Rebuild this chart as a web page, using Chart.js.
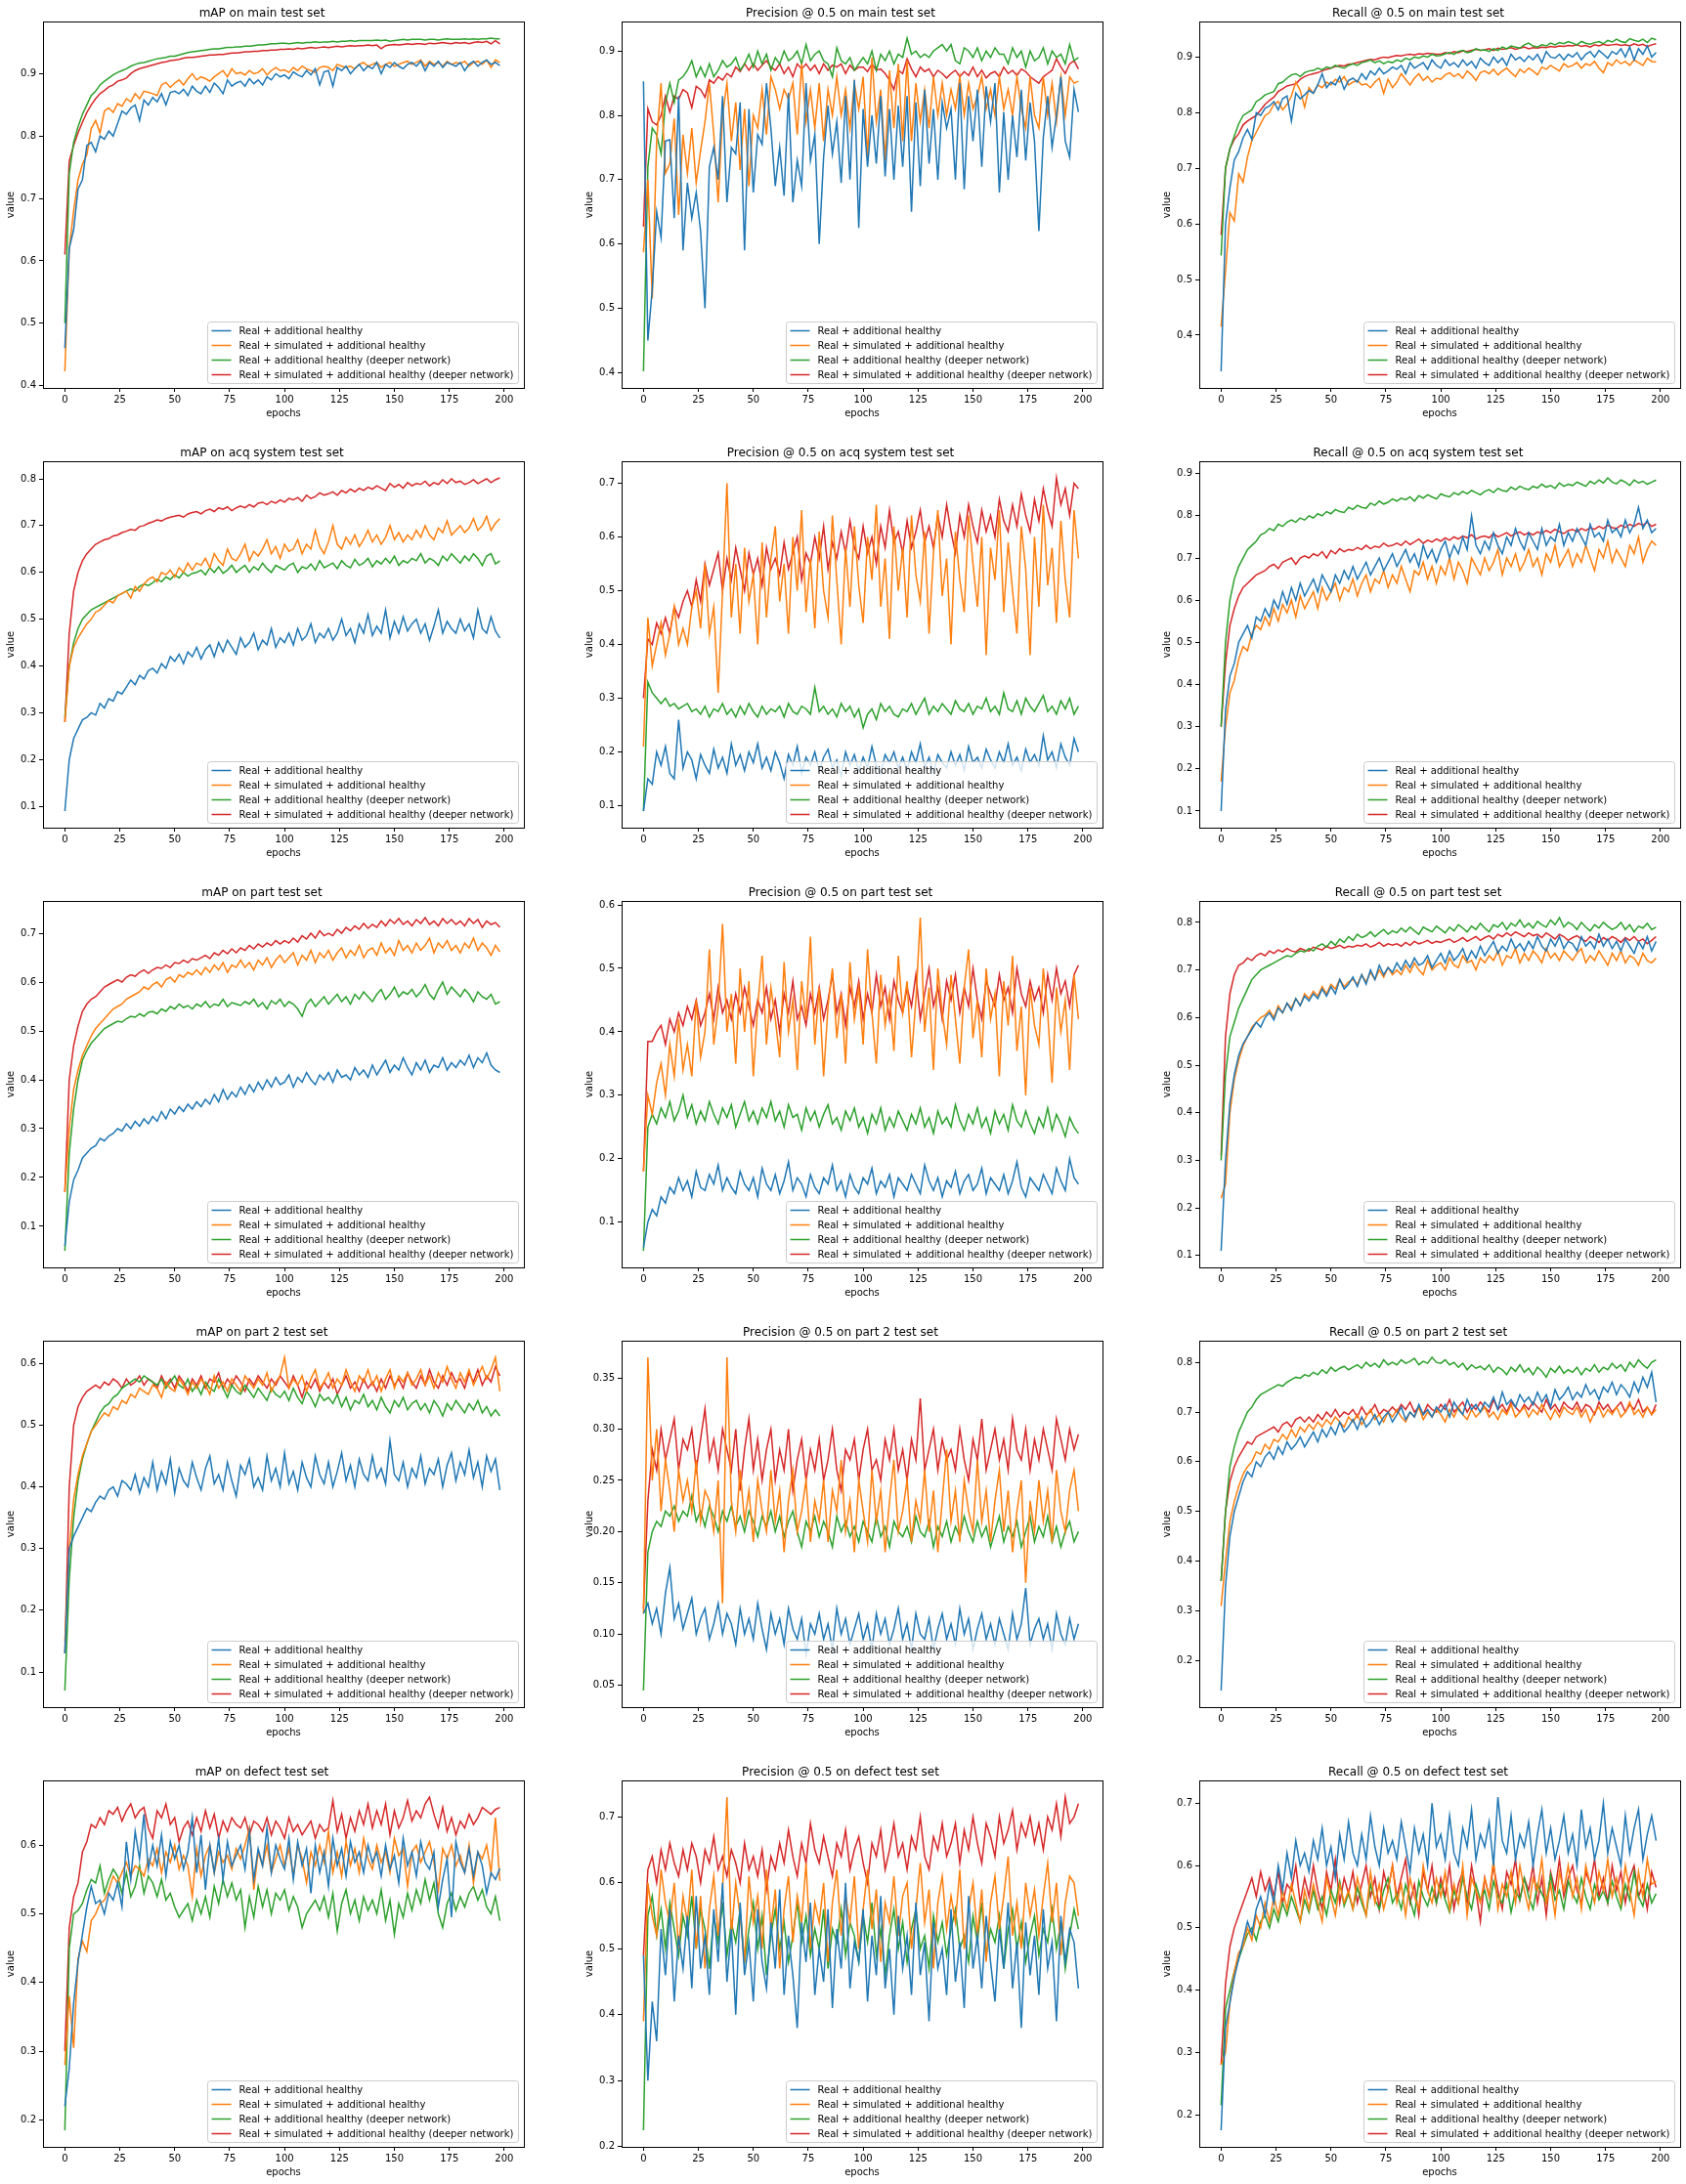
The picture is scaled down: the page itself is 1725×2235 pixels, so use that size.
<!DOCTYPE html>
<html><head><meta charset="utf-8">
<script src="https://cdn.jsdelivr.net/npm/chart.js@4.4.1/dist/chart.umd.min.js"></script>
<style>
body{margin:0;background:#fff;width:1725px;height:2235px;position:relative;overflow:hidden}
.p{position:absolute;width:542px;height:440px}
</style></head><body>
<script>
// ---------- categories / labels ----------
const epochs = [0,2,4,6,8,10,12,14,16,18,20,22,24,26,28,30,32,34,36,38,40,42,44,46,48,50,52,54,56,58,60,62,64,66,68,70,72,74,76,78,80,82,84,86,88,90,92,94,96,98,100,102,104,106,108,110,112,114,116,118,120,122,124,126,128,130,132,134,136,138,140,142,144,146,148,150,152,154,156,158,160,162,164,166,168,170,172,174,176,178,180,182,184,186,188,190,192,194,196,198];
const seriesLabels = ['Real + additional healthy','Real + simulated + additional healthy','Real + additional healthy (deeper network)','Real + simulated + additional healthy (deeper network)'];
const panelTitles = ['mAP on main test set','Precision @ 0.5 on main test set','Recall @ 0.5 on main test set','mAP on acq system test set','Precision @ 0.5 on acq system test set','Recall @ 0.5 on acq system test set','mAP on part test set','Precision @ 0.5 on part test set','Recall @ 0.5 on part test set','mAP on part 2 test set','Precision @ 0.5 on part 2 test set','Recall @ 0.5 on part 2 test set','mAP on defect test set','Precision @ 0.5 on defect test set','Recall @ 0.5 on defect test set'];
const xTickLabels = ['0','25','50','75','100','125','150','175','200'];
const yTicksMain = ['0.4','0.5','0.6','0.7','0.8','0.9'];
const yTicks1to8 = ['0.1','0.2','0.3','0.4','0.5','0.6','0.7','0.8'];
const yTicks1to7 = ['0.1','0.2','0.3','0.4','0.5','0.6','0.7'];
const yTicks1to9 = ['0.1','0.2','0.3','0.4','0.5','0.6','0.7','0.8','0.9'];
const yTicks1to6 = ['0.1','0.2','0.3','0.4','0.5','0.6'];
const yTicksP2Prec = ['0.05','0.10','0.15','0.20','0.25','0.30','0.35'];
const yTicks2to8 = ['0.2','0.3','0.4','0.5','0.6','0.7','0.8'];
const yTicks2to6 = ['0.2','0.3','0.4','0.5','0.6'];
const yTicks2to7 = ['0.2','0.3','0.4','0.5','0.6','0.7'];

// ---------- values (per-mille, epochs 0..198 step 2) ----------
// mAP main
const mapMain_real = [460,620,650,715,730,785,790,775,800,795,808,800,820,840,835,845,850,825,858,850,862,855,868,850,870,872,868,875,865,880,872,868,880,870,885,878,868,890,880,885,888,880,892,884,890,882,895,890,900,895,898,892,903,898,895,905,898,908,882,903,905,880,910,905,912,900,908,915,905,912,908,918,900,915,910,918,912,908,915,918,912,920,905,918,912,920,910,918,915,912,918,905,915,920,912,918,922,915,918,913];
const mapMain_sim = [423,620,680,730,755,770,812,825,805,840,845,838,852,848,860,855,868,860,872,870,868,865,882,886,878,885,890,882,892,900,890,895,892,888,895,900,905,895,908,900,902,898,905,900,902,908,898,905,910,905,906,902,910,905,912,908,905,902,910,912,910,905,915,912,910,912,908,915,918,912,915,918,910,915,918,912,915,918,920,915,918,922,912,920,915,918,912,920,915,918,916,920,912,918,920,915,922,910,922,918];
const mapMain_deep = [500,740,790,815,835,850,865,872,882,888,893,898,902,905,908,912,915,917,918,920,922,924,925,926,928,928,930,932,934,935,936,937,938,939,940,940,941,942,942,943,943,944,944,945,946,946,947,948,948,949,949,948,949,950,949,950,950,951,950,951,951,952,951,952,952,953,952,953,953,953,953,954,953,954,952,953,954,955,954,955,955,955,954,955,955,954,955,956,955,955,955,956,955,956,955,956,956,957,956,956];
const mapMain_simDeep = [610,760,785,805,822,838,850,860,868,873,879,882,888,890,893,900,905,908,910,912,914,916,918,919,921,922,923,925,926,926,927,928,929,930,930,931,931,932,933,933,934,935,935,936,936,937,937,938,938,939,939,940,939,941,940,941,942,941,942,943,942,943,944,943,944,945,944,945,945,946,945,946,940,945,946,947,946,947,948,947,948,948,947,949,948,949,950,949,948,950,949,950,948,950,951,950,952,948,953,948];
// Precision main
const precMain_real = [853,450,530,650,610,760,762,640,830,590,695,640,680,620,500,720,750,700,830,665,750,740,820,590,810,680,770,755,850,780,690,750,675,835,665,730,690,850,730,770,600,735,815,740,790,695,830,700,855,625,810,720,800,725,830,705,810,700,815,720,830,650,820,690,840,725,810,700,820,780,810,700,850,685,830,760,840,720,845,790,850,680,805,700,800,735,840,730,820,760,620,765,830,750,800,860,760,735,840,805];
const precMain_sim = [587,700,515,760,850,710,725,795,645,770,710,780,695,745,790,850,770,665,800,850,760,820,715,810,690,800,780,840,770,860,840,810,840,825,850,770,880,790,840,780,850,760,840,800,860,800,840,780,850,810,860,735,890,790,840,730,870,780,880,760,885,760,850,790,840,780,860,800,850,800,840,810,860,800,850,810,830,860,810,840,800,860,810,840,800,860,810,780,860,800,780,860,800,850,790,860,800,860,850,853];
const precMain_deep = [402,720,780,770,740,820,850,820,855,860,870,885,860,875,860,880,860,870,885,875,880,890,870,880,895,875,900,880,895,870,890,880,900,885,890,900,880,910,885,895,900,885,880,860,905,885,880,890,870,880,890,880,900,870,895,885,900,880,895,890,920,895,900,890,895,890,900,905,910,900,910,885,880,905,900,890,905,885,900,890,905,895,895,880,905,890,900,875,900,885,890,905,880,900,890,895,880,910,885,890];
const precMain_simDeep = [627,810,790,785,800,830,805,830,825,840,835,812,845,840,828,855,850,860,855,865,860,875,868,880,870,880,870,878,885,875,870,880,865,875,860,880,872,880,870,878,865,880,870,878,875,880,865,878,870,875,875,868,880,870,872,865,855,840,870,865,888,872,860,875,868,872,860,870,865,858,865,870,860,868,862,875,860,870,858,865,868,860,875,865,870,862,872,868,860,855,850,860,865,870,888,875,865,880,885,872];
// Recall main
const recMain_real = [335,600,665,715,730,755,770,752,800,795,808,812,820,805,825,830,785,835,825,832,840,835,850,870,845,855,850,865,842,858,862,855,870,860,875,868,880,870,875,882,878,885,870,890,880,885,890,878,895,885,880,895,885,890,882,895,885,892,880,898,890,885,900,890,898,885,905,895,900,892,902,895,905,890,910,900,898,905,895,905,900,908,895,905,910,900,912,905,898,910,905,915,900,918,895,915,905,920,900,908];
const recMain_sim = [415,515,620,605,690,675,720,750,765,780,795,800,815,820,805,815,830,855,840,810,845,835,850,845,855,850,860,855,865,850,855,858,850,852,845,855,862,835,860,845,855,870,860,850,862,870,858,865,855,862,860,868,872,865,870,862,875,868,858,872,875,870,878,868,875,880,872,865,878,872,880,875,868,882,878,885,880,875,888,882,885,890,880,888,885,892,880,872,890,885,895,888,892,885,895,890,885,898,892,891];
const recMain_deep = [543,700,735,758,780,795,800,805,820,825,832,835,838,852,855,862,868,870,865,872,875,876,880,877,882,880,885,882,880,885,888,885,890,892,895,890,893,888,892,890,895,892,898,895,900,898,902,900,905,902,903,906,908,905,910,912,908,910,915,912,913,910,915,912,918,915,920,918,916,922,925,920,918,922,920,925,922,926,924,928,925,922,928,925,923,926,928,924,930,927,932,928,926,933,930,928,932,926,934,931];
const recMain_simDeep = [580,700,735,752,762,778,785,790,795,805,815,822,828,838,843,848,850,852,860,865,868,870,872,875,878,880,883,885,884,887,888,890,892,894,896,895,898,900,899,901,903,902,904,905,904,906,905,907,906,905,905,908,906,910,908,911,910,912,914,912,913,915,912,916,914,915,917,914,916,918,915,917,916,918,917,919,918,920,919,921,920,922,919,921,918,922,920,923,921,922,923,921,922,920,924,921,923,919,922,924];
// mAP acq
const mapAcq_real = [90,200,245,265,285,290,300,295,320,310,330,325,345,340,355,370,360,380,372,390,395,385,405,395,420,410,425,405,430,420,440,415,435,445,420,450,430,455,440,425,460,440,450,470,435,455,445,480,440,460,450,470,445,480,455,465,490,450,470,460,480,455,470,500,465,480,450,490,470,510,465,485,470,520,460,495,470,505,475,490,500,470,490,455,485,520,470,495,480,470,500,475,490,460,520,480,470,505,475,460];
const mapAcq_sim = [280,400,440,460,475,490,500,515,520,530,540,535,550,555,560,545,570,560,575,585,590,580,600,595,605,590,610,600,620,605,620,615,630,610,640,625,615,650,630,625,640,660,625,645,635,650,670,640,655,630,660,645,650,670,640,660,650,690,655,640,665,700,660,650,675,660,680,655,670,690,665,680,660,675,700,670,685,665,680,670,690,675,700,680,670,695,685,710,680,690,700,685,695,715,690,700,720,690,705,715];
const mapAcq_deep = [290,400,450,480,500,510,520,525,530,535,540,545,550,555,560,565,560,570,575,572,578,585,580,590,585,595,588,600,592,598,600,605,595,610,600,612,598,605,615,600,608,615,600,612,605,620,608,600,615,610,605,615,620,600,612,608,618,605,625,610,615,620,608,625,615,610,628,615,620,630,612,625,618,630,620,635,615,625,620,630,625,640,620,630,625,615,635,625,640,630,620,635,625,640,630,615,635,640,618,625];
const mapAcq_simDeep = [280,470,560,600,625,640,650,660,665,670,672,678,680,685,688,692,690,698,700,705,708,712,710,715,718,720,722,718,725,728,730,725,732,735,730,738,735,740,732,738,742,738,745,740,748,750,745,752,748,755,750,758,755,760,752,765,758,762,770,765,768,772,765,775,770,778,772,780,775,782,778,785,780,775,790,782,788,780,792,785,790,788,795,785,792,788,798,790,800,792,795,788,792,798,790,795,800,792,798,802];
// Precision acq
const precAcq_real = [90,150,140,200,175,210,160,150,260,170,200,185,150,195,175,160,205,170,190,160,215,175,195,165,200,180,215,170,190,165,200,180,150,195,175,210,160,190,175,200,165,190,205,170,185,155,200,175,195,165,190,170,210,175,160,195,180,200,170,190,165,200,180,215,170,190,160,195,180,170,200,175,195,165,210,180,190,170,205,185,170,200,180,215,175,190,165,205,180,195,175,230,185,200,170,215,190,175,225,200];
const precAcq_sim = [210,450,360,400,440,380,420,470,400,430,400,470,500,430,550,420,470,310,500,700,450,550,420,580,480,530,400,590,450,560,620,480,550,420,600,500,650,460,560,430,610,500,450,640,520,400,580,470,620,510,440,600,520,660,470,560,410,620,500,580,450,640,530,480,610,420,570,650,490,560,400,610,520,460,640,550,470,600,380,580,520,650,460,590,500,420,620,540,380,600,470,660,510,580,440,630,520,450,650,560];
const precAcq_deep = [90,330,310,300,290,300,285,290,280,285,290,275,280,270,285,265,280,275,290,270,280,265,285,270,290,275,265,285,270,280,275,285,265,290,275,270,285,280,270,320,275,285,270,280,265,290,275,285,265,280,245,270,280,260,290,275,285,270,265,280,275,290,270,285,300,270,285,275,290,280,270,295,280,275,290,270,285,280,300,275,285,270,310,280,275,295,270,300,285,275,290,305,275,285,270,295,280,300,270,285];
const precAcq_simDeep = [300,410,400,440,420,450,420,470,450,480,500,470,520,480,550,510,540,570,500,560,520,580,540,500,570,530,560,510,580,540,560,530,590,540,570,600,520,570,550,600,560,620,540,590,560,610,570,630,580,560,620,570,600,550,620,580,650,590,610,570,630,580,610,650,590,620,580,640,600,660,610,570,640,600,660,620,590,650,610,640,600,670,630,610,660,620,680,640,610,670,630,690,650,620,710,660,690,640,700,690];
// Recall acq
const recAcq_real = [100,340,420,450,500,520,540,510,560,550,580,560,600,580,620,590,630,600,640,610,630,650,620,660,640,620,660,640,670,650,680,650,670,690,660,680,700,670,690,710,680,700,720,690,710,680,730,700,720,690,720,740,700,730,710,750,720,800,730,710,740,720,760,730,710,750,730,770,740,720,760,740,720,770,730,750,740,780,730,760,740,770,750,730,780,750,760,740,790,760,770,750,790,760,780,820,770,790,760,770];
const recAcq_sim = [170,300,380,410,460,490,480,520,540,530,560,540,580,550,590,570,600,560,610,580,600,620,580,630,600,620,640,600,630,620,650,610,640,660,620,650,640,670,630,660,640,680,650,620,670,660,690,650,680,640,680,660,700,650,690,670,640,700,680,660,700,670,690,720,660,700,680,710,670,690,720,680,700,660,710,690,730,680,700,720,680,710,690,730,700,670,720,700,740,690,720,700,680,730,710,750,690,720,740,730];
const recAcq_deep = [300,500,600,650,680,700,720,730,740,755,760,770,765,780,775,785,790,785,795,790,800,795,805,800,810,805,815,810,808,820,815,825,820,818,830,825,835,828,832,840,835,842,838,845,835,848,842,850,845,840,852,848,845,855,850,858,852,860,855,850,858,862,855,865,860,858,868,862,870,865,862,870,866,875,868,872,865,878,870,875,872,880,875,870,882,876,885,878,890,880,876,885,880,872,885,878,882,875,880,885];
const recAcq_simDeep = [300,450,540,580,610,630,640,650,660,665,670,680,685,675,690,695,700,685,700,705,700,710,705,715,700,718,710,722,715,720,718,725,720,730,722,728,725,735,728,730,735,730,740,732,738,745,735,742,738,745,740,748,742,750,745,752,748,755,745,750,752,748,758,750,755,760,752,758,762,755,760,755,762,758,765,760,768,762,758,765,768,762,770,765,772,768,775,770,778,772,770,778,772,780,775,782,778,785,775,780];
// mAP part
const mapPart_real = [60,150,195,215,240,250,260,265,280,275,285,290,300,295,310,300,315,305,320,310,325,315,335,320,340,330,345,335,350,340,355,345,360,350,370,355,380,360,375,365,385,370,390,375,395,380,400,385,405,390,395,410,385,405,395,415,400,390,410,400,415,395,420,405,410,400,425,410,420,405,430,410,425,440,415,430,420,445,425,410,435,420,440,415,430,425,445,420,435,425,440,430,450,425,445,435,455,430,420,415];
const mapPart_sim = [170,300,380,420,450,470,490,505,515,525,535,545,550,555,565,570,575,580,590,585,595,600,590,605,610,600,615,610,620,615,625,615,630,620,635,625,640,620,635,630,645,630,640,625,645,635,650,630,645,655,640,650,660,635,655,645,665,640,660,650,665,645,660,670,650,665,655,675,650,665,670,655,680,660,670,655,685,665,675,660,680,665,675,690,660,680,670,685,665,675,660,680,670,690,665,680,670,655,675,662];
const mapPart_deep = [50,250,340,400,440,460,475,485,495,505,510,515,520,518,525,530,528,535,530,538,540,535,545,540,550,545,555,548,552,545,555,550,560,548,555,552,565,550,558,555,552,560,555,565,550,558,545,562,555,565,550,560,555,545,530,555,565,550,560,570,555,565,575,560,570,555,575,565,580,570,560,575,585,565,575,590,570,580,575,585,570,580,595,575,565,585,600,575,590,580,570,585,575,560,580,570,565,575,555,560];
const mapPart_simDeep = [170,400,470,510,540,555,565,570,580,590,595,600,605,600,610,615,612,620,625,618,625,630,628,635,630,640,638,645,640,648,645,650,655,648,660,655,665,658,668,660,670,665,675,668,678,672,680,675,685,678,685,680,690,682,695,688,700,690,705,695,700,695,708,700,712,705,715,708,720,710,718,712,725,715,728,720,730,718,725,715,728,720,732,718,725,715,730,720,728,718,725,715,730,720,728,712,725,718,722,712];
// Precision part
const precPart_real = [60,100,120,110,140,130,155,145,170,150,165,140,180,155,150,175,160,190,150,170,155,145,180,160,150,170,140,185,160,150,175,145,165,195,150,170,160,140,175,155,145,170,160,190,150,165,140,175,155,145,170,160,185,145,165,155,175,140,170,160,150,175,160,145,190,165,150,170,140,165,155,180,145,165,175,150,160,185,145,170,160,150,175,145,165,195,155,140,170,160,150,175,160,145,185,165,150,200,170,160];
const precPart_sim = [180,300,270,320,350,300,380,330,420,340,380,330,450,360,400,530,380,440,570,400,460,350,500,400,480,330,440,520,380,470,420,360,510,400,450,340,480,420,550,380,470,330,440,500,390,460,350,510,420,470,380,530,430,350,490,410,460,370,520,430,480,360,450,580,400,470,340,500,430,380,490,420,350,470,530,390,450,360,500,420,460,330,480,410,520,370,440,300,470,410,380,500,430,320,470,400,450,340,490,420];
const precPart_deep = [55,250,270,255,280,265,290,260,275,300,265,285,255,275,260,290,270,255,280,265,285,250,270,290,260,275,255,280,265,290,260,275,250,285,265,270,245,280,260,275,250,270,285,255,265,245,275,260,280,250,265,240,270,255,280,245,265,250,275,260,245,270,255,280,250,265,240,275,255,265,250,285,260,245,270,255,280,250,265,240,275,255,270,245,285,260,250,275,255,240,265,250,280,245,270,255,235,265,250,240];
const precPart_simDeep = [180,385,385,400,410,380,420,400,430,410,440,420,450,410,430,460,420,470,430,450,420,460,430,470,440,410,450,430,470,420,450,400,460,430,480,420,440,410,460,430,470,420,450,490,430,460,410,470,440,480,420,460,430,490,440,470,420,480,450,430,470,440,490,420,460,500,440,470,420,480,450,490,430,470,440,500,450,420,480,460,440,490,450,470,430,500,460,440,480,450,470,430,490,450,500,460,480,440,490,505];
// Recall part
const recPart_real = [110,300,420,480,520,545,560,575,590,580,600,610,595,620,610,630,615,640,625,645,635,650,640,660,645,665,650,680,660,670,685,665,690,670,700,680,710,690,705,695,715,700,720,705,725,710,715,730,705,720,735,715,740,720,730,745,720,740,725,750,730,745,760,735,750,740,765,745,755,740,760,745,770,750,740,765,750,770,745,760,755,740,770,750,760,745,775,750,765,745,760,740,765,750,735,760,745,770,740,760];
const recPart_sim = [220,250,400,470,510,540,560,580,590,600,605,615,600,625,610,630,620,640,625,650,640,655,645,665,650,670,660,680,665,675,680,670,690,675,695,680,700,685,705,690,700,690,710,695,715,700,690,720,700,710,715,700,725,710,705,730,715,720,700,725,715,730,720,740,710,730,725,745,715,735,720,740,730,715,745,725,735,720,740,730,720,735,745,715,730,720,740,725,710,735,720,740,715,730,725,710,735,720,715,725];
const recPart_deep = [300,480,560,590,620,640,660,680,690,700,705,710,715,720,725,730,728,735,740,738,745,740,750,755,748,760,752,765,758,770,762,775,768,772,780,770,778,785,775,782,778,788,780,790,782,775,790,785,780,792,785,778,790,782,795,788,780,792,785,798,788,780,795,790,800,785,798,792,805,790,798,788,802,795,790,805,795,810,790,800,795,785,800,790,782,795,788,800,792,785,790,800,785,795,780,792,788,798,785,790];
const recPart_simDeep = [310,560,650,690,710,715,725,720,730,735,730,740,735,742,738,745,740,738,745,742,740,748,745,742,750,745,748,752,746,750,748,752,750,755,748,752,758,750,755,752,755,750,758,752,760,755,758,762,756,760,758,762,765,758,762,768,760,765,770,762,768,772,765,775,770,778,772,780,775,770,778,772,775,768,778,772,765,775,770,762,768,772,765,760,770,765,758,768,762,770,765,758,768,762,770,760,765,755,762,770];
// mAP part 2
const mapPart2_real = [130,300,320,335,350,365,360,375,385,380,395,400,385,410,405,395,420,390,415,400,440,395,425,405,445,390,430,410,400,440,415,395,430,450,405,420,395,440,410,385,435,420,445,400,415,395,450,410,430,400,455,405,425,395,440,415,400,450,420,405,440,400,425,455,410,435,400,445,420,410,450,415,430,405,475,420,410,440,400,430,415,450,405,430,420,445,400,435,455,410,440,420,460,415,440,400,450,425,445,395];
const mapPart2_sim = [150,300,380,420,450,470,490,500,510,520,515,530,525,540,535,550,545,560,555,550,565,560,545,570,560,555,575,565,550,570,560,575,565,550,580,560,570,555,575,565,555,580,570,560,575,565,585,555,570,580,610,560,575,565,580,555,575,590,560,570,585,560,575,565,590,570,555,580,570,590,565,580,555,575,590,560,580,570,585,565,575,590,565,580,560,585,570,595,575,560,585,570,590,565,580,595,575,590,610,555];
const mapPart2_deep = [70,250,350,410,445,470,490,505,520,530,535,545,550,560,565,570,575,570,580,575,570,565,575,560,570,580,565,560,575,555,565,550,570,560,555,575,560,545,565,555,550,565,555,545,560,550,540,560,550,545,555,540,560,545,535,555,545,530,550,540,545,535,550,530,545,525,540,535,550,530,540,525,545,530,520,540,530,545,525,535,540,525,535,520,540,530,515,535,525,540,530,520,535,525,540,520,530,515,525,515];
const mapPart2_simDeep = [130,400,500,530,545,555,560,565,560,570,565,575,570,560,575,565,570,580,565,575,570,560,580,565,575,560,580,570,555,575,565,580,560,575,570,585,560,575,565,580,570,555,575,565,580,570,560,575,565,580,570,560,580,565,545,570,560,575,555,570,560,575,550,565,580,560,570,555,575,560,570,555,575,560,580,565,575,560,585,570,560,580,565,590,570,560,580,565,585,570,575,560,585,570,590,565,580,570,595,580];
// Precision part 2
const precPart2_real = [120,130,110,125,100,140,165,115,130,105,120,135,100,115,125,95,110,130,100,120,110,90,125,100,115,95,130,105,85,120,100,115,90,125,105,95,115,80,110,100,120,95,110,85,125,100,115,90,105,120,95,110,85,120,100,115,90,105,125,95,110,85,120,100,95,115,85,105,120,95,110,90,125,100,115,85,105,120,95,110,90,115,100,85,120,95,110,145,90,105,115,95,110,85,120,100,90,115,95,110];
const precPart2_sim = [120,370,250,300,220,270,240,200,260,230,250,220,270,210,240,230,200,250,130,370,230,200,260,210,240,190,250,220,200,260,210,240,180,230,260,200,220,250,190,230,210,250,190,240,220,270,200,230,180,250,220,190,260,210,240,180,230,270,200,220,250,190,230,210,260,200,240,180,230,280,210,240,190,250,220,200,270,210,240,190,230,260,200,240,180,220,250,150,230,200,250,210,240,190,260,220,200,240,260,220];
const precPart2_deep = [45,180,200,210,205,220,215,225,210,220,215,235,210,220,205,225,215,200,220,210,225,205,215,200,220,210,195,215,205,220,200,215,195,210,220,200,185,210,200,215,195,210,200,185,215,200,210,195,205,190,210,200,190,215,195,205,185,210,200,195,205,190,215,200,195,210,185,205,195,210,190,205,195,215,200,190,210,195,205,185,200,215,190,205,195,210,185,200,215,190,205,195,215,190,205,185,200,210,190,200];
const precPart2_simDeep = [125,230,280,260,300,270,290,310,260,290,280,300,260,290,320,270,290,260,300,280,260,300,240,280,310,260,290,250,280,300,250,280,260,300,240,270,290,250,280,260,290,250,270,300,260,240,280,270,290,250,280,300,260,270,250,290,270,300,260,280,250,290,270,330,260,280,300,260,290,270,280,260,300,270,250,290,270,310,260,280,300,270,290,260,310,280,270,300,260,290,270,300,280,260,310,290,270,300,280,295];
// Recall part 2
const recPart2_real = [140,350,450,500,530,560,580,570,600,590,610,620,605,630,615,640,625,635,650,630,645,660,640,665,650,670,655,680,660,670,685,665,690,670,680,695,675,690,700,680,695,710,685,700,690,715,695,705,690,710,700,715,690,720,705,695,725,705,715,700,720,710,730,705,740,715,725,710,735,720,730,715,740,720,735,710,745,725,735,750,725,740,730,755,735,745,725,750,740,760,735,755,745,730,760,740,770,750,780,720];
const recPart2_sim = [310,400,480,520,550,575,590,600,620,615,635,625,645,640,655,645,665,650,670,660,675,665,680,670,685,675,690,680,670,690,680,695,675,690,705,685,695,680,700,690,705,690,680,700,690,710,685,700,690,705,695,680,705,690,710,695,685,705,690,700,710,690,700,685,705,695,715,690,700,710,690,705,695,715,700,685,705,690,710,700,695,710,690,705,680,700,710,690,705,695,710,690,700,720,695,705,690,710,695,705];
const recPart2_deep = [360,500,590,630,660,680,700,710,725,735,740,745,750,755,752,760,765,770,768,775,772,780,775,785,778,790,782,788,792,785,790,795,788,800,792,798,790,805,795,800,795,805,798,802,808,795,802,798,810,800,798,805,795,800,790,798,785,795,788,792,785,795,780,790,785,775,790,782,795,780,788,775,790,782,770,788,780,792,778,785,780,790,775,788,782,795,780,790,785,798,788,795,782,800,790,805,795,788,800,805];
const recPart2_simDeep = [360,500,560,590,610,625,640,635,650,655,660,665,670,660,675,680,670,685,690,680,690,680,695,685,700,690,705,690,700,695,705,690,710,695,700,715,695,705,700,710,700,715,705,720,700,710,695,715,705,700,715,705,725,700,710,720,700,715,705,720,710,700,725,705,715,700,720,710,700,715,705,720,710,700,725,705,715,700,720,710,705,720,700,715,710,695,720,705,715,700,710,720,700,715,705,725,700,710,695,715];
// mAP defect
const mapDef_real = [220,275,370,430,470,510,540,515,520,500,530,520,545,510,605,550,620,580,645,565,600,570,615,555,605,580,600,565,590,640,560,615,535,600,560,610,550,605,570,585,600,565,620,550,595,570,625,560,600,580,565,610,550,605,570,595,530,600,560,590,540,610,570,595,555,605,575,590,560,600,575,590,555,600,565,585,545,610,570,590,555,605,575,565,590,510,550,580,495,605,575,560,595,555,590,570,530,560,550,566];
const mapDef_sim = [280,380,305,435,460,445,490,500,515,520,535,555,545,560,575,555,570,565,555,580,570,595,560,590,575,600,565,585,570,525,595,555,585,600,560,590,575,585,565,595,580,600,625,535,590,570,600,560,580,600,570,595,555,600,580,545,590,570,600,575,620,560,590,555,605,570,595,560,610,580,565,600,575,590,560,610,585,595,540,590,600,575,590,605,575,535,595,580,600,570,585,560,600,545,590,580,600,560,640,548];
const mapDef_deep = [185,450,500,505,515,535,550,545,570,530,550,565,555,530,560,525,540,570,530,555,545,525,550,520,530,510,495,505,515,490,520,500,525,495,540,515,550,525,545,520,535,480,525,495,540,510,535,500,530,520,535,505,525,510,480,500,510,520,505,525,495,530,475,515,535,500,520,490,525,505,520,500,535,490,520,470,515,495,530,505,535,515,550,520,545,500,480,515,530,505,525,510,530,540,520,535,510,500,525,490];
const mapDef_simDeep = [300,480,525,545,590,605,630,625,640,630,650,645,655,635,650,660,640,650,655,625,610,650,640,660,630,640,605,625,635,615,640,620,650,625,645,610,635,620,640,630,625,640,615,635,630,620,640,615,635,625,610,640,620,630,615,625,635,610,630,620,625,665,620,645,610,640,620,650,630,660,625,650,630,660,615,650,625,640,665,635,650,640,660,670,645,625,655,620,640,615,635,625,645,630,640,655,650,645,652,655];
// Precision defect
const precDef_real = [490,300,420,360,530,460,560,420,520,470,550,440,580,470,520,430,560,480,600,450,530,400,570,460,510,420,560,480,440,540,470,590,430,520,460,380,540,480,570,430,500,450,560,410,530,470,600,440,510,480,560,420,520,460,580,440,500,400,550,470,520,430,570,460,510,390,540,470,500,430,560,450,510,410,580,470,520,440,550,480,420,530,470,570,440,510,380,540,460,520,430,560,470,510,390,550,480,530,510,440];
const precDef_sim = [390,600,550,520,620,570,540,600,500,580,540,620,500,580,470,560,610,520,590,730,520,600,550,480,610,540,580,500,620,530,590,470,560,610,510,580,540,630,500,570,540,600,480,570,620,520,580,540,610,500,560,620,530,590,480,570,540,610,520,580,600,500,560,630,540,590,470,570,610,530,580,540,620,500,560,600,520,590,480,570,610,530,580,640,520,570,500,600,550,590,520,580,630,540,600,490,570,610,600,550];
const precDef_deep = [225,550,580,520,560,500,570,530,490,550,520,580,500,560,530,470,550,510,570,490,540,510,560,480,530,570,500,550,460,520,560,500,540,480,520,570,510,550,490,530,500,560,470,530,510,560,490,540,520,480,550,510,570,490,530,460,520,560,500,540,480,530,560,500,520,470,550,510,540,490,530,560,500,520,480,550,510,570,490,530,510,550,470,530,560,500,540,480,520,550,490,530,510,560,500,540,470,520,560,530];
const precDef_simDeep = [490,620,640,600,650,620,660,630,610,650,620,660,640,600,650,630,670,620,640,610,650,630,600,660,620,640,610,650,590,640,620,660,630,680,640,610,660,630,690,650,630,670,640,610,660,640,680,620,650,670,630,600,660,640,680,620,650,690,640,660,620,670,650,700,640,620,670,650,690,640,660,690,630,680,650,700,660,630,690,670,640,700,660,680,710,650,690,670,700,660,690,650,700,680,720,670,730,690,700,720];
// Recall defect
const recDef_real = [175,340,380,420,450,480,510,490,530,550,520,570,540,600,560,620,580,640,600,620,590,640,610,660,600,630,580,650,610,670,620,600,650,610,680,630,600,660,620,640,610,670,630,590,660,620,650,600,700,630,650,610,680,620,600,660,630,690,610,650,630,670,600,710,640,620,680,610,650,630,670,600,650,690,620,660,610,640,680,620,650,600,690,630,660,610,640,700,620,660,630,600,680,620,660,690,610,650,680,640];
const recDef_sim = [280,300,380,430,460,470,500,480,520,500,540,510,550,520,560,530,570,540,510,560,530,570,540,510,580,550,520,570,540,560,530,580,550,520,590,540,570,530,560,600,540,570,520,580,550,530,600,560,540,580,550,590,530,570,540,600,520,580,560,540,580,550,610,530,570,550,590,540,600,560,530,580,560,610,540,570,520,590,560,600,550,580,530,600,570,540,590,560,610,550,580,540,600,560,520,590,550,610,570,575];
const recDef_deep = [215,370,400,430,450,470,490,500,480,510,520,500,530,510,540,520,550,530,510,545,525,560,530,550,520,560,540,575,535,555,530,565,540,520,570,545,530,560,580,540,555,530,570,545,520,575,550,535,565,540,570,545,525,560,540,580,550,530,570,545,560,530,575,550,540,570,525,560,545,580,550,530,570,555,540,585,545,560,530,575,555,540,580,550,530,570,545,560,540,575,550,530,570,545,590,550,535,570,540,555];
const recDef_simDeep = [280,410,470,500,520,540,560,580,550,590,560,580,550,590,540,570,560,600,540,580,550,600,560,530,590,560,610,540,580,555,590,540,570,600,550,580,530,590,560,600,550,580,610,540,570,520,590,560,600,540,580,550,600,530,570,590,540,600,560,510,580,550,600,560,530,590,570,610,545,580,560,600,540,580,520,590,560,610,550,580,600,560,540,590,570,610,550,580,540,600,560,590,540,580,600,550,570,530,590,565];

// ---------- panel table built from the arrays above ----------
const panels = [
  [mapMain_real, mapMain_sim, mapMain_deep, mapMain_simDeep, yTicksMain],
  [precMain_real, precMain_sim, precMain_deep, precMain_simDeep, yTicksMain],
  [recMain_real, recMain_sim, recMain_deep, recMain_simDeep, yTicksMain],
  [mapAcq_real, mapAcq_sim, mapAcq_deep, mapAcq_simDeep, yTicks1to8],
  [precAcq_real, precAcq_sim, precAcq_deep, precAcq_simDeep, yTicks1to7],
  [recAcq_real, recAcq_sim, recAcq_deep, recAcq_simDeep, yTicks1to9],
  [mapPart_real, mapPart_sim, mapPart_deep, mapPart_simDeep, yTicks1to7],
  [precPart_real, precPart_sim, precPart_deep, precPart_simDeep, yTicks1to6],
  [recPart_real, recPart_sim, recPart_deep, recPart_simDeep, yTicks1to8],
  [mapPart2_real, mapPart2_sim, mapPart2_deep, mapPart2_simDeep, yTicks1to6],
  [precPart2_real, precPart2_sim, precPart2_deep, precPart2_simDeep, yTicksP2Prec],
  [recPart2_real, recPart2_sim, recPart2_deep, recPart2_simDeep, yTicks2to8],
  [mapDef_real, mapDef_sim, mapDef_deep, mapDef_simDeep, yTicks2to6],
  [precDef_real, precDef_sim, precDef_deep, precDef_simDeep, yTicks2to7],
  [recDef_real, recDef_sim, recDef_deep, recDef_simDeep, yTicks2to7]
];

// ---------- styling ----------
const colors = ['#1f77b4','#ff7f0e','#2ca02c','#d62728'];
const FONT = 'DejaVu Sans';
const colLeft = [0, 592, 1183];
const rowTop = [0, 450, 900, 1350, 1800];

const framePlugin = {
  id: 'frame',
  afterDatasetsDraw(chart) {
    const a = chart.chartArea, ctx = chart.ctx;
    ctx.save();
    ctx.strokeStyle = '#000';
    ctx.lineWidth = 1;
    ctx.strokeRect(a.left + 0.5, a.top + 0.5, a.right - a.left, a.bottom - a.top);
    ctx.restore();
  }
};
const legendPlugin = {
  id: 'mplLegend',
  afterDraw(chart) {
    const ctx = chart.ctx, a = chart.chartArea;
    const ds = chart.data.datasets;
    ctx.save();
    ctx.font = '10px "' + FONT + '"';
    const tw = Math.max(...ds.map(d => ctx.measureText(d.label).width));
    const w = Math.round(tw + 37), h = 63;
    const x = Math.round(a.right - 6 - w) + 0.5, y = Math.round(a.bottom - 5 - h) + 0.5;
    ctx.beginPath();
    ctx.roundRect(x, y, w, h, 3);
    ctx.fillStyle = 'rgba(255,255,255,0.8)';
    ctx.fill();
    ctx.strokeStyle = '#cccccc';
    ctx.lineWidth = 1;
    ctx.stroke();
    ds.forEach((d, i) => {
      const cy = y + 9 + i * 15;
      ctx.strokeStyle = d.borderColor;
      ctx.lineWidth = 1.5;
      ctx.beginPath(); ctx.moveTo(x + 4, cy); ctx.lineTo(x + 24, cy); ctx.stroke();
      ctx.fillStyle = '#000';
      ctx.textBaseline = 'middle';
      ctx.textAlign = 'left';
      ctx.fillText(d.label, x + 32, cy + 0.5);
    });
    ctx.restore();
  }
};

panels.forEach((p, idx) => {
  const col = idx % 3, row = Math.floor(idx / 3);
  const div = document.createElement('div');
  div.className = 'p';
  div.style.left = colLeft[col] + 'px';
  div.style.top = rowTop[row] + 'px';
  const cv = document.createElement('canvas');
  cv.width = 542; cv.height = 440;
  div.appendChild(cv);
  document.body.appendChild(div);

  const series = p.slice(0, 4);
  const yLabels = p[4];
  const all = [].concat(...series).map(v => v / 1000);
  const dmin = Math.min(...all), dmax = Math.max(...all), rng = dmax - dmin;
  const datasets = series.map((s, k) => ({
    label: seriesLabels[k],
    data: s.map((v, i) => ({ x: epochs[i], y: v / 1000 })),
    borderColor: colors[k],
    backgroundColor: colors[k],
    borderWidth: 1.5,
    pointRadius: 0,
    tension: 0,
    fill: false
  }));
  const lastEpoch = 199;
  new Chart(cv, {
    type: 'line',
    data: { datasets },
    plugins: [framePlugin, legendPlugin],
    options: {
      responsive: false,
      animation: false,
      devicePixelRatio: 1,
      layout: { padding: { left: 0, right: 6, top: 0, bottom: 0 } },
      plugins: {
        legend: { display: false },
        tooltip: { enabled: false },
        title: {
          display: true, text: panelTitles[idx], color: '#000',
          font: { family: FONT, size: 12, weight: 'normal' },
          padding: { top: 6.5, bottom: 1.1 }
        }
      },
      scales: {
        x: {
          type: 'linear',
          min: -0.05 * lastEpoch, max: lastEpoch * 1.05,
          afterBuildTicks: s => { s.ticks = xTickLabels.map(t => ({ value: parseFloat(t) })); },
          afterFit: s => { s.height = 43; },
          ticks: { autoSkip: false, maxRotation: 0, padding: 2, color: '#000',
                   font: { family: FONT, size: 10 },
                   callback: v => xTickLabels.find(t => parseFloat(t) === v) },
          grid: { display: true, drawOnChartArea: false, drawTicks: true, tickLength: 4, color: '#000', lineWidth: 1 },
          border: { display: false },
          title: { display: true, text: 'epochs', color: '#000', font: { family: FONT, size: 10 }, padding: { top: 0, bottom: 11 } }
        },
        y: {
          type: 'linear',
          min: dmin - 0.05 * rng, max: dmax + 0.05 * rng,
          afterBuildTicks: s => { s.ticks = yLabels.map(t => ({ value: parseFloat(t) })); },
          afterFit: s => { s.width = 44; },
          ticks: { autoSkip: false, padding: 3, color: '#000',
                   font: { family: FONT, size: 10 },
                   callback: v => { const f = yLabels.find(t => Math.abs(parseFloat(t) - v) < 1e-9); return f === undefined ? '' : f; } },
          grid: { display: true, drawOnChartArea: false, drawTicks: true, tickLength: 4, color: '#000', lineWidth: 1 },
          border: { display: false },
          title: { display: true, text: 'value', color: '#000', font: { family: FONT, size: 10 }, padding: { top: 5, bottom: 0 } }
        }
      }
    }
  });
});
</script>
</body></html>
